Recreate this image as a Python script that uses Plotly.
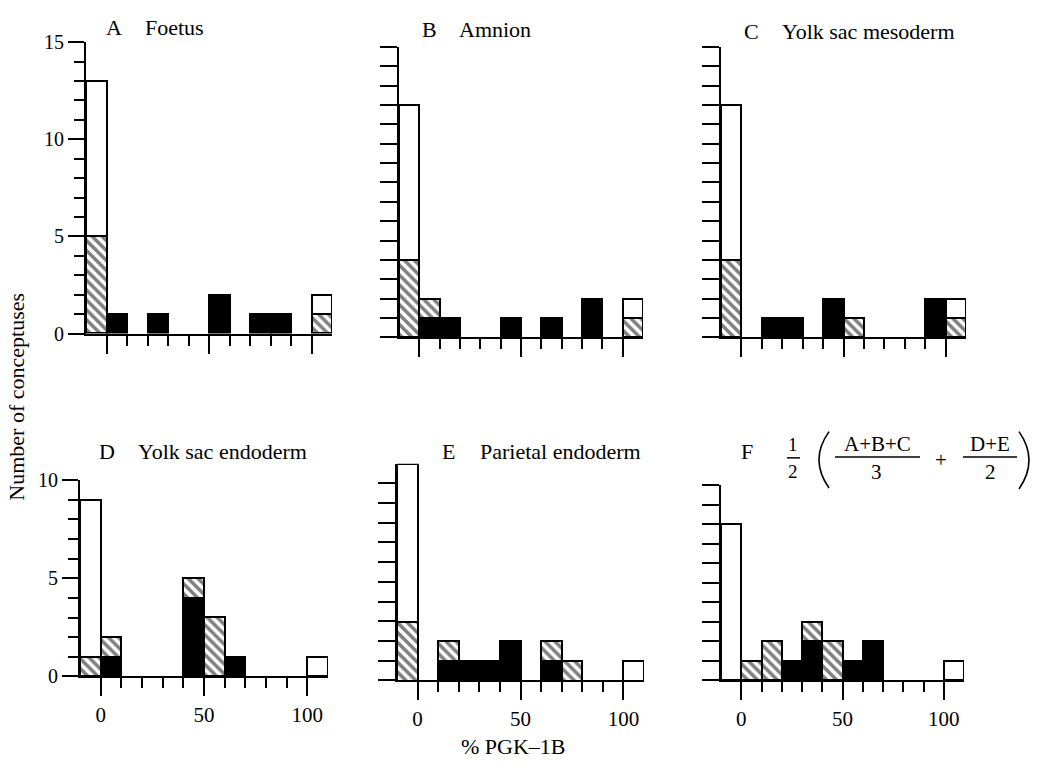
import plotly.graph_objects as go

W, H = 1042, 770

# ---- data -------------------------------------------------------------
bin_centers = [-5, 5, 15, 25, 35, 45, 55, 65, 75, 85, 95, 105]   # % PGK-1B bins (width 10)

a_black   = [0, 1, 0, 1, 0, 0, 2, 0, 1, 1, 0, 0]
a_hatched = [5, 0, 0, 0, 0, 0, 0, 0, 0, 0, 0, 1]
a_white   = [8, 0, 0, 0, 0, 0, 0, 0, 0, 0, 0, 1]

b_black   = [0, 1, 1, 0, 0, 1, 0, 1, 0, 2, 0, 0]
b_hatched = [4, 1, 0, 0, 0, 0, 0, 0, 0, 0, 0, 1]
b_white   = [8, 0, 0, 0, 0, 0, 0, 0, 0, 0, 0, 1]

c_black   = [0, 0, 1, 1, 0, 2, 0, 0, 0, 0, 2, 0]
c_hatched = [4, 0, 0, 0, 0, 0, 1, 0, 0, 0, 0, 1]
c_white   = [8, 0, 0, 0, 0, 0, 0, 0, 0, 0, 0, 1]

d_black   = [0, 1, 0, 0, 0, 4, 0, 1, 0, 0, 0, 0]
d_hatched = [1, 1, 0, 0, 0, 1, 3, 0, 0, 0, 0, 0]
d_white   = [8, 0, 0, 0, 0, 0, 0, 0, 0, 0, 0, 1]

e_black   = [0, 0, 1, 1, 1, 2, 0, 1, 0, 0, 0, 0]
e_hatched = [3, 0, 1, 0, 0, 0, 0, 1, 1, 0, 0, 0]
e_white   = [8, 0, 0, 0, 0, 0, 0, 0, 0, 0, 0, 1]

f_black   = [0, 0, 0, 1, 2, 0, 1, 2, 0, 0, 0, 0]
f_hatched = [0, 1, 2, 0, 1, 2, 0, 0, 0, 0, 0, 0]
f_white   = [8, 0, 0, 0, 0, 0, 0, 0, 0, 0, 0, 1]

panel_letters = ["A", "B", "C", "D", "E", "F"]
panel_names = ["Foetus", "Amnion", "Yolk sac mesoderm",
               "Yolk sac endoderm", "Parietal endoderm", ""]
x_tick_labels = ["0", "50", "100"]
y_title = "Number of conceptuses"
x_title = "% PGK\u20131B"

panels = [
    (a_black, a_hatched, a_white),
    (b_black, b_hatched, b_white),
    (c_black, c_hatched, c_white),
    (d_black, d_hatched, d_white),
    (e_black, e_hatched, e_white),
    (f_black, f_hatched, f_white),
]

# ---- layout geometry (pixels) ----------------------------------------
# x left, x right, y top, y bottom, y range top
geom = [
    (86, 332, 32, 332, 15),
    (399, 643, 37, 336, 15),
    (721, 966, 37, 336, 15),
    (80, 328, 483, 685, 10),
    (397, 644, 466, 689, 11),
    (721, 964, 488, 689, 10),
]

FONT = "Liberation Serif"
LW = 2


def nz(v):
    return [None if x == 0 else x for x in v]


def px(x):
    return x / W


def py(y):
    return 1 - y / H


fig = go.Figure()

for i, (blk, hat, wht) in enumerate(panels):
    suf = "" if i == 0 else str(i + 1)
    common = dict(x=bin_centers, width=[10] * len(bin_centers),
                  xaxis="x" + suf, yaxis="y" + suf, showlegend=False,
                  hoverinfo="skip")
    fig.add_trace(go.Bar(y=nz(blk), marker=dict(color="black",
                         line=dict(color="black", width=LW)), **common))
    fig.add_trace(go.Bar(y=nz(hat), marker=dict(
        color="white", line=dict(color="black", width=LW),
        pattern=dict(shape="\\", fgcolor="black", bgcolor="white",
                     size=7, solidity=0.5)), **common))
    fig.add_trace(go.Bar(y=nz(wht), marker=dict(color="white",
                         line=dict(color="black", width=LW)), **common))

layout = dict(
    width=W, height=H, barmode="stack", bargap=0,
    margin=dict(l=0, r=0, t=0, b=0),
    paper_bgcolor="white", plot_bgcolor="rgba(0,0,0,0)",
    font=dict(family=FONT, color="black", size=20),
)

for i, (x0, x1, yt, yb, ymax) in enumerate(geom):
    suf = "" if i == 0 else str(i + 1)
    bottom = i >= 3
    xa = dict(
        domain=[px(x0), px(x1)], range=[-10, 110], anchor="y" + suf,
        showline=True, linecolor="black", linewidth=LW,
        showgrid=False, zeroline=False,
        ticks="outside", tickvals=[0, 50, 100], ticktext=x_tick_labels,
        ticklen=18, tickwidth=LW, tickcolor="black",
        showticklabels=bottom,
        tickfont=dict(family=FONT, size=21, color="black"),
        minor=dict(ticks="outside", tickvals=[10, 20, 30, 40, 60, 70, 80, 90],
                   ticklen=10, tickwidth=LW, tickcolor="black", showgrid=False),
    )
    top_val = 15 if i < 3 else 10
    if i in (0, 3):
        major = list(range(0, top_val + 1, 5))
        minor_vals = [v for v in range(0, top_val + 1) if v % 5]
        ya = dict(tickvals=major, ticktext=[str(v) for v in major],
                  ticklen=16, showticklabels=True,
                  minor=dict(ticks="outside", tickvals=minor_vals, ticklen=10,
                             tickwidth=LW, tickcolor="black", showgrid=False))
    else:
        ya = dict(tickvals=list(range(0, top_val + 1)), ticklen=17,
                  showticklabels=False)
    ya.update(
        domain=[py(yb), py(yt)], range=[0, ymax], anchor="x" + suf,
        showline=True, linecolor="black", linewidth=LW,
        showgrid=False, zeroline=False, ticks="outside",
        tickwidth=LW, tickcolor="black",
        tickfont=dict(family=FONT, size=20, color="black"),
    )
    layout["xaxis" + suf] = xa
    layout["yaxis" + suf] = ya

fig.update_layout(**layout)

# ---- panel titles -----------------------------------------------------
title_pos = [  # (letter x, word x, y)
    (104, 143, 17),
    (420, 457, 19),
    (742, 780, 21),
    (97, 136, 453),
    (440, 478, 453),
    (739, None, 453),
]
TF = dict(family=FONT, size=22, color="black")
ann = []
for (lx, wx, y), letter, name in zip(title_pos, panel_letters, panel_names):
    ann.append(dict(x=px(lx), y=py(y), xref="paper", yref="paper",
                    text=letter, showarrow=False, xanchor="left",
                    yanchor="middle", font=TF))
    if name:
        ann.append(dict(x=px(wx), y=py(y), xref="paper", yref="paper",
                        text=name, showarrow=False, xanchor="left",
                        yanchor="middle", font=TF))

# formula for panel F
formula = [
    ("1", 793, 446, 19), ("2", 793, 474, 19),
    ("A+B+C", 877, 446, 21), ("3", 876, 475, 21),
    ("+", 941, 462, 21),
    ("D+E", 990, 446, 21), ("2", 990, 475, 21),
]
for t, x, y, s in formula:
    ann.append(dict(x=px(x), y=py(y), xref="paper", yref="paper", text=t,
                    showarrow=False, xanchor="center", yanchor="middle",
                    font=dict(family=FONT, size=s, color="black")))

ann.append(dict(x=px(17), y=py(397), xref="paper", yref="paper",
                text=y_title, textangle=-90, showarrow=False,
                xanchor="center", yanchor="middle", font=TF))
ann.append(dict(x=px(513), y=py(757), xref="paper", yref="paper",
                text=x_title, showarrow=False, xanchor="center",
                yanchor="middle", font=TF))

shapes = []
for x0, x1, y in [(787, 800, 460), (835, 920, 459), (963, 1017, 459)]:
    shapes.append(dict(type="line", xref="paper", yref="paper",
                       x0=px(x0), x1=px(x1), y0=py(y), y1=py(y),
                       line=dict(color="black", width=1.5)))

# large thin parentheses of the formula
for (xe, xc, yt, yb) in [(829, 809, 433, 491), (1019, 1039, 433, 492)]:
    path = "M {},{} Q {},{} {},{}".format(px(xe), py(yt), px(xc), py((yt + yb) / 2),
                                          px(xe), py(yb))
    shapes.append(dict(type="path", xref="paper", yref="paper", path=path,
                       line=dict(color="black", width=1.6)))

fig.update_layout(annotations=ann, shapes=shapes)

fig.write_html("out.html")
